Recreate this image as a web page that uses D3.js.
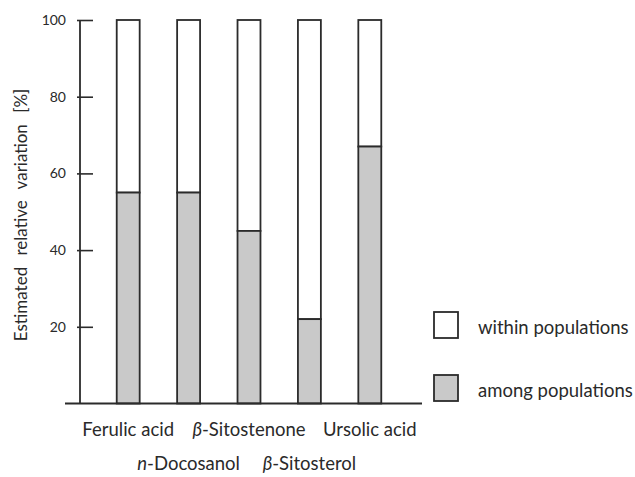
<!DOCTYPE html>
<html>
<head>
<meta charset="utf-8">
<script src="https://cdn.jsdelivr.net/npm/d3@7"></script>
<style>
  html, body { margin: 0; padding: 0; background: #fff; }
  svg text { font-family: Lato, "Open Sans", sans-serif; fill: #2a2a2a; }
</style>
</head>
<body>
<svg id="chart" width="635" height="477"></svg>
<script>
// Compounds (two staggered label rows) and partition of variation (%)
const compounds = ["Ferulic acid", "n-Docosanol", "β-Sitostenone", "β-Sitosterol", "Ursolic acid"];
const amongPopulations = [55, 55, 45, 22, 67];
const withinPopulations = amongPopulations.map(v => 100 - v);
const yTicks = [20, 40, 60, 80, 100];
const legendLabels = ["within populations", "among populations"];

const svg = d3.select("#chart");
const ink = "#2b2b2b";
const fillAmong = "#c9c9c9";

const x = d3.scaleBand()
  .domain(compounds)
  .range([98, 400])
  .paddingInner(0.62)
  .paddingOuter(0.31);

const y = d3.scaleLinear().domain([0, 100]).range([403.5, 20]);

const axisX = 80;

// bars: "among" part at the bottom, "within" part stacked on top
const bars = svg.append("g");
compounds.forEach((c, i) => {
  const a = amongPopulations[i];
  const w = withinPopulations[i];
  bars.append("rect")
    .attr("x", x(c)).attr("width", x.bandwidth())
    .attr("y", y(a + w)).attr("height", y(a) - y(a + w))
    .attr("fill", "#fff").attr("stroke", ink).attr("stroke-width", 1.8);
  bars.append("rect")
    .attr("x", x(c)).attr("width", x.bandwidth())
    .attr("y", y(a)).attr("height", y(0) - y(a))
    .attr("fill", fillAmong).attr("stroke", ink).attr("stroke-width", 1.8);
});

// y axis
const yAxis = d3.axisLeft(y)
  .tickValues(yTicks)
  .tickSize(-13)
  .tickPadding(14)
  .tickFormat(d3.format("d"));
const gy = svg.append("g").attr("transform", `translate(${axisX},0)`).call(yAxis);
gy.select(".domain").remove();
gy.selectAll(".tick line").attr("x1", -3).attr("stroke", ink).attr("stroke-width", 1.6);
gy.selectAll(".tick text").attr("font-size", 14).attr("fill", "#333")
  .attr("font-family", "Lato, sans-serif");
gy.append("line")
  .attr("x1", 0).attr("x2", 0)
  .attr("y1", y(100)).attr("y2", y(0))
  .attr("stroke", ink).attr("stroke-width", 1.8);

// x baseline
svg.append("line")
  .attr("x1", 65).attr("x2", 422)
  .attr("y1", y(0)).attr("y2", y(0))
  .attr("stroke", ink).attr("stroke-width", 2);

// category labels, alternating rows
const labelRows = [436, 470];
compounds.forEach((c, i) => {
  const t = svg.append("text")
    .attr("x", x(c) + x.bandwidth() / 2)
    .attr("y", labelRows[i % 2])
    .attr("text-anchor", "middle")
    .attr("font-size", 18.5);
  const m = c.match(/^(n|β)(-.*)$/);
  if (m) {
    t.append("tspan").attr("font-style", "italic").text(m[1]);
    t.append("tspan").text(m[2]);
  } else {
    t.text(c);
  }
});

// y axis title
svg.append("text")
  .attr("transform", `translate(27,${215}) rotate(-90)`)
  .attr("text-anchor", "middle")
  .attr("font-size", 17)
  .attr("word-spacing", 7)
  .text("Estimated relative variation [%]");

// legend
const legend = svg.append("g");
const legendFills = ["#fff", fillAmong];
const legendY = [312, 375];
legendLabels.forEach((lab, i) => {
  legend.append("rect")
    .attr("x", 434).attr("y", legendY[i])
    .attr("width", 24).attr("height", 26)
    .attr("fill", legendFills[i]).attr("stroke", ink).attr("stroke-width", 1.8);
  legend.append("text")
    .attr("x", 478).attr("y", legendY[i] + 22)
    .attr("font-size", 18.5)
    .text(lab);
});
</script>
</body>
</html>
